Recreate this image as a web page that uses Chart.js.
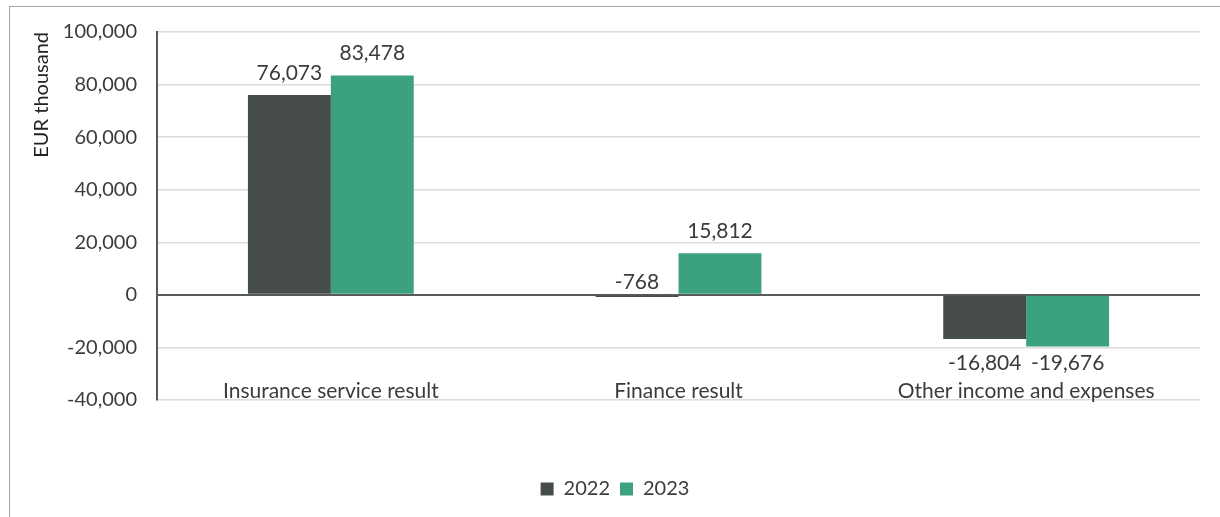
<!DOCTYPE html>
<html>
<head>
<meta charset="utf-8">
<script src="https://cdn.jsdelivr.net/npm/chart.js@4.4.1/dist/chart.umd.min.js"></script>
<style>
    html, body { margin: 0; padding: 0; background: #fff; }
    #wrap { position: relative; width: 1220px; height: 517px; }
    #frame {
        position: absolute; left: 9px; top: 6px; right: 0; bottom: 0;
        border-left: 1px solid #a6a6a6; border-top: 1px solid #a6a6a6;
    }
    #myChart { position: absolute; left: 0; top: 0; }
</style>
</head>
<body>
<div id="wrap">
    <div id="frame"></div>
    <canvas id="myChart" width="1220" height="517"></canvas>
</div>
<script>
const categories = ['Insurance service result', 'Finance result', 'Other income and expenses'];
const values2022 = [76073, -768, -16804];
const values2023 = [83478, 15812, -19676];
const seriesNames = ['2022', '2023'];
const yTicks = [-40000, -20000, 0, 20000, 40000, 60000, 80000, 100000];

const FONT = 'Lato, "Open Sans", sans-serif';
const TEXT = '#3b3b3b';

const fmt = v => v.toLocaleString('en-US');

// value labels: above positive bars, below negative ones (lined up under
// the deepest bar of the group), and above the zero line when the bar
// is too short to hold text
const valueLabels = {
    id: 'valueLabels',
    afterDatasetsDraw(chart) {
        const ctx = chart.ctx;
        const metas = chart.data.datasets.map((ds, di) => chart.getDatasetMeta(di));
        ctx.save();
        ctx.font = '21px ' + FONT;
        ctx.fillStyle = TEXT;
        ctx.textAlign = 'center';
        ctx.textBaseline = 'middle';
        chart.data.datasets.forEach((ds, di) => {
            metas[di].data.forEach((bar, i) => {
                const v = ds.data[i];
                const h = Math.abs(bar.base - bar.y);
                let y;
                if (v >= 0) {
                    y = bar.y - 22;
                } else if (h < 12) {
                    y = bar.base - 14;
                } else {
                    const deepest = Math.max(...metas.map(m => m.data[i].y));
                    y = deepest + 17;
                }
                ctx.fillText(fmt(v), bar.x, y);
            });
        });
        ctx.restore();
    }
};

// category names sit just above the bottom gridline, inside the plot
const categoryLabels = {
    id: 'categoryLabels',
    afterDraw(chart) {
        const ctx = chart.ctx;
        const xs = chart.scales.x;
        ctx.save();
        ctx.font = '21px ' + FONT;
        ctx.fillStyle = TEXT;
        ctx.textAlign = 'center';
        ctx.textBaseline = 'middle';
        categories.forEach((c, i) => {
            ctx.fillText(c, xs.getPixelForValue(i), chart.chartArea.bottom - 9);
        });
        ctx.restore();
    }
};

let ctx = document.getElementById('myChart').getContext('2d');

var myChart = new Chart(ctx, {
    type: 'bar',
    data: {
        labels: categories,
        datasets: [
            {
                label: seriesNames[0],
                data: values2022,
                backgroundColor: '#464c4b',
                categoryPercentage: 0.477,
                barPercentage: 1.0
            }, {
                label: seriesNames[1],
                data: values2023,
                backgroundColor: '#3ba180',
                categoryPercentage: 0.477,
                barPercentage: 1.0
            }
        ]
    },
    options: {
        responsive: false,
        animation: false,
        layout: {
            padding: { left: 30, right: 20, top: 32, bottom: 8 }
        },
        plugins: {
            legend: {
                position: 'bottom',
                labels: {
                    color: TEXT,
                    font: { family: FONT, size: 20 },
                    boxWidth: 13,
                    boxHeight: 13,
                    padding: 10
                }
            },
            tooltip: { enabled: false }
        },
        scales: {
            x: {
                grid: { display: false, drawTicks: false },
                border: { display: false },
                ticks: { display: false },
                afterFit(scale) { scale.height = 69; }
            },
            y: {
                min: -40000,
                max: 100000,
                afterBuildTicks(scale) {
                    scale.ticks = yTicks.map(v => ({ value: v }));
                },
                afterFit(scale) { scale.width = 127; },
                border: { display: true, color: '#595959', width: 2 },
                grid: {
                    drawTicks: false,
                    color: c => c.tick && c.tick.value === 0 ? '#595959' : '#dcdcdc',
                    lineWidth: c => c.tick && c.tick.value === 0 ? 2 : 1.5
                },
                ticks: {
                    color: TEXT,
                    font: { family: FONT, size: 20 },
                    padding: 20,
                    callback: v => fmt(v)
                },
                title: {
                    display: true,
                    text: 'EUR thousand',
                    align: 'end',
                    color: '#222',
                    font: { family: FONT, size: 20 },
                    padding: 0
                }
            }
        }
    },
    plugins: [valueLabels, categoryLabels]
});
</script>
</body>
</html>
